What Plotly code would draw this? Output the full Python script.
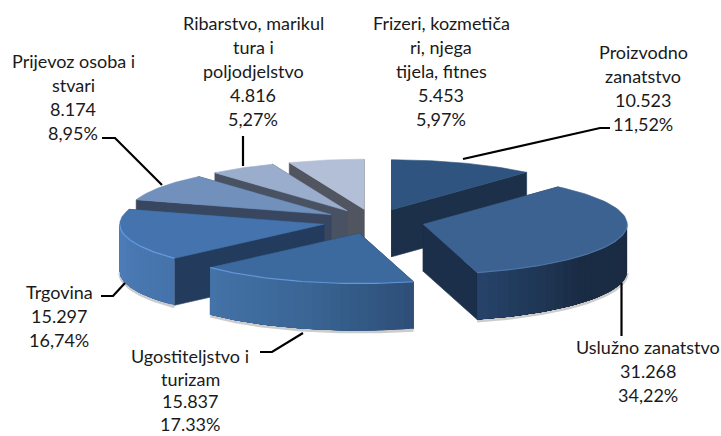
import numpy as np
import plotly.graph_objects as go

# ---- data (clockwise from 12 o'clock) ----
categories = [
    ["Proizvodno", "zanatstvo"],
    ["Uslužno zanatstvo"],
    ["Ugostiteljstvo i", "turizam"],
    ["Trgovina"],
    ["Prijevoz osoba i", "stvari"],
    ["Ribarstvo, marikul", "tura i", "poljodjelstvo"],
    ["Frizeri, kozmetiča", "ri, njega", "tijela, fitnes"],
]
values = [10523, 31268, 15837, 15297, 8174, 4816, 5453]
value_labels = ["10.523", "31.268", "15.837", "15.297", "8.174", "4.816", "5.453"]
percent_labels = ["11,52%", "34,22%", "17.33%", "16,74%", "8,95%", "5,27%", "5,97%"]

# ---- styling ----
top_colors = ["#2f5480", "#3b6291", "#3c6a9f", "#4473ad", "#7190bc", "#9aadcc", "#b3bfd6"]
wall_colors = ["#1c3049", "#1b2f4a", "#1f3654", "#233c5e", "#38475f", "#495263", "#50555f"]
side_stops = [
    None,
    [(90, "#1b2b42"), (130, "#1a2c44"), (164.2, "#26436a")],
    [(164, "#2d4e76"), (195, "#3a6595"), (226.6, "#4473a8")],
    [(226.4, "#4572aa"), (250, "#4a78b2"), (270, "#4f80bb")],
    None, None, None,
]
rim_colors = [None, "#4f76a6", "#6296d6", "#629ce2", None, None, None]
draw_order = [6, 5, 4, 3, 0, 1, 2]

CX, CY, RX, RY, DEPTH, EXPLODE = 373.5, 221.5, 204.0, 50.0, 47.0, 0.25
FONT = "Lato, Carlito, Calibri, sans-serif"

label_anchor = [  # centre x, first-line centre y, line pitch of each label block
    (643, 52, 24), (648, 347, 24), (190, 356, 22.7), (59, 292, 24), (73, 61, 24), (253, 23, 24), (441, 23, 24),
]
leaders = [
    [(463, 159), (600, 128), (610, 128)],
    [(621.5, 283), (621.5, 336)],
    [(303, 333), (272, 352), (260, 352)],
    [(125, 283), (113, 296), (101, 296)],
    [(162, 185), (115, 138), (102, 138)],
    [(243, 136), (243, 166)],
]


def hex_rgb(c):
    return np.array([int(c[i:i + 2], 16) for i in (1, 3, 5)], float)


def blend(stops, t):
    xs = [s[0] for s in stops]
    rgb = [np.interp(t, xs, [hex_rgb(s[1])[k] for s in stops]) for k in range(3)]
    return "rgb(%d,%d,%d)" % tuple(int(round(v)) for v in rgb)


fig = go.Figure()


def poly(xs, ys, color, seam=0.6):
    fig.add_trace(go.Scatter(x=list(xs), y=list(ys), mode="lines", fill="toself",
                             fillcolor=color, line=dict(color=color, width=seam),
                             hoverinfo="skip", showlegend=False))


def stroke(xs, ys, color, width):
    fig.add_trace(go.Scatter(x=list(xs), y=list(ys), mode="lines",
                             line=dict(color=color, width=width),
                             hoverinfo="skip", showlegend=False))


shares = np.array(values, float) / sum(values) * 360.0
ends = np.cumsum(shares)
starts = ends - shares


def arc(ax, ay, a0, a1, n=60):
    th = np.radians(np.linspace(a0, a1, n))
    return ax + RX * np.sin(th), ay - RY * np.cos(th)


for i in draw_order:
    a0, a1 = starts[i], ends[i]
    mid = np.radians((a0 + a1) / 2)
    ax = CX + EXPLODE * RX * np.sin(mid)
    ay = CY - EXPLODE * RY * np.cos(mid)

    # radial walls
    for ang in (a0, a1):
        ex, ey = arc(ax, ay, ang, ang, 1)
        poly([ax, ex[0], ex[0], ax, ax], [ay, ey[0], ey[0] + DEPTH, ay + DEPTH, ay], wall_colors[i])

    # outer front side with a horizontal gradient: each band reaches to the far
    # end of the side and is painted over by the next, so no seams appear
    f0, f1 = max(a0, 90), min(a1, 270)
    if f1 > f0 and side_stops[i]:
        sx, sy = arc(ax, ay, f0, f1, 60)
        stroke(sx, sy + DEPTH + 1.5, "rgba(110,110,110,0.35)", 3)
        edges = np.linspace(f0, f1, 25)
        for e0, e1 in zip(edges[:-1], edges[1:]):
            qx, qy = arc(ax, ay, e0, f1, 40)
            poly(np.r_[qx, qx[::-1]], np.r_[qy, qy[::-1] + DEPTH],
                 blend(side_stops[i], (e0 + e1) / 2), seam=0)

    # top face
    tx, ty = arc(ax, ay, a0, a1)
    poly(np.r_[ax, tx, ax], np.r_[ay, ty, ay], top_colors[i])
    if f1 > f0 and rim_colors[i]:
        rx_, ry_ = arc(ax, ay, f0, f1)
        stroke(rx_, ry_, rim_colors[i], 1.2)

# leader lines
for path in leaders:
    stroke([p[0] for p in path], [p[1] for p in path], "#000000", 2.2)

# labels, one annotation per line so the line pitch can follow the original
annotations = []
for i in range(len(values)):
    lines = categories[i] + [value_labels[i], percent_labels[i]]
    x0, y0, pitch = label_anchor[i]
    for k, line in enumerate(lines):
        annotations.append(dict(x=x0, y=y0 + pitch * k, text=line, xref="x", yref="y",
                                showarrow=False, xanchor="center", yanchor="middle",
                                font=dict(family=FONT, size=18, color="#1a1a1a")))

fig.update_layout(
    width=721, height=436, margin=dict(l=0, r=0, t=0, b=0),
    paper_bgcolor="white", plot_bgcolor="white", showlegend=False,
    xaxis=dict(range=[0, 721], visible=False, fixedrange=True),
    yaxis=dict(range=[436, 0], visible=False, fixedrange=True),
    annotations=annotations,
)

fig.write_html("out.html", config={"displayModeBar": False},
               post_script="document.body.style.margin='0';")
